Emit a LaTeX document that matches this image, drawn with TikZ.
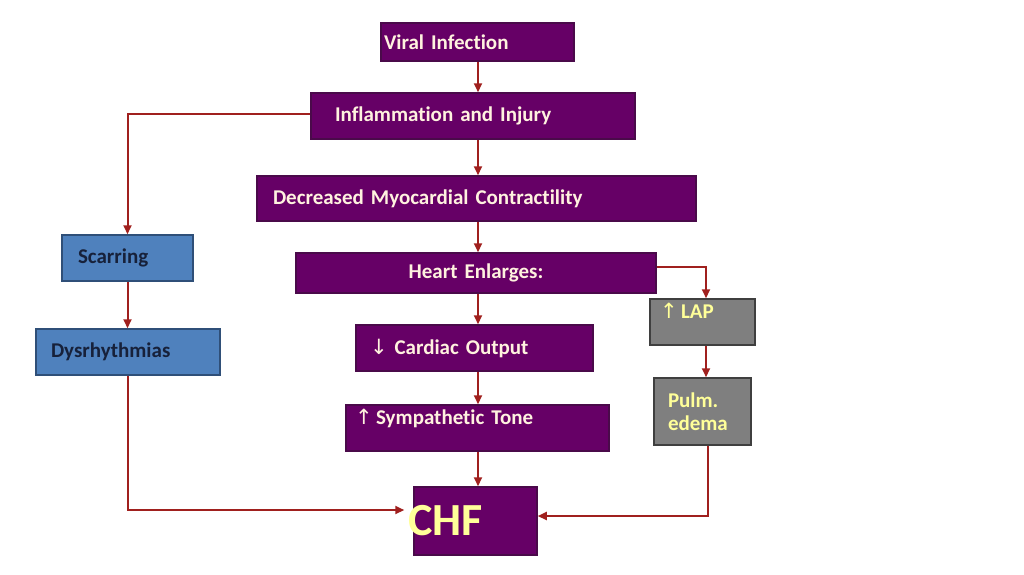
\documentclass[tikz,border=0pt]{standalone}
\usepackage{fontspec}
\setmainfont{Carlito}[Ligatures={NoCommon}]
\newfontfamily\arrowfont{DejaVu Sans}
\usepackage{tikz}
\usetikzlibrary{arrows.meta,calc,positioning}
\definecolor{boxpurple}{HTML}{660066}
\definecolor{edgepurple}{HTML}{4A0A4A}
\definecolor{boxblue}{HTML}{4F81BD}
\definecolor{edgeblue}{HTML}{2F4F78}
\definecolor{boxgray}{HTML}{7F7F7F}
\definecolor{edgegray}{HTML}{3F3F3F}
\definecolor{linkred}{HTML}{A0201E}
\definecolor{creamtext}{HTML}{FFF2DF}
\definecolor{yellowtext}{HTML}{FFFF99}
\definecolor{navytext}{HTML}{17213A}
\tikzset{
  flowbox/.style={rectangle,draw,line width=1.5pt,inner ysep=0pt,align=left,
    font=\fontsize{21}{23}\selectfont\bfseries},
  purplebox/.style={flowbox,fill=boxpurple,draw=edgepurple,text=creamtext},
  bluebox/.style={flowbox,fill=boxblue,draw=edgeblue,text=navytext},
  graybox/.style={flowbox,fill=boxgray,draw=edgegray,text=yellowtext},
  raised/.style={text height=15pt,text depth=22pt},
  link/.style={draw=linkred,line width=2pt,-{Triangle[length=9pt,width=8pt]}}
}
\newcommand{\upar}{{\arrowfont\mdseries\char"2191}}
\newcommand{\downar}{{\arrowfont\mdseries\char"2193}}
\begin{document}
\begin{tikzpicture}[x=1pt,y=-1pt]
\useasboundingbox[fill=white] (0,0) rectangle (1024,574);
\coordinate (spine) at (478,0);
\node[purplebox,minimum width=193pt,minimum height=38pt,inner xsep=3pt,text width=187pt] (viral) at (477.5,42) {Viral Infection};
\node[purplebox,minimum width=324pt,minimum height=46pt,inner xsep=24pt,text width=276pt] (inflam) at (473,116) {Inflammation and Injury};
\node[purplebox,minimum width=439pt,minimum height=45pt,inner xsep=16pt,text width=407pt] (decr) at (476.5,198.5) {Decreased Myocardial Contractility};
\node[purplebox,minimum width=360pt,minimum height=40pt,inner xsep=10pt,text width=340pt,align=center] (heart) at (476,273) {Heart Enlarges:};
\node[purplebox,minimum width=237pt,minimum height=46pt,inner xsep=14pt,text width=209pt] (cardiac) at (474.5,348) {\downar\ Cardiac Output};
\node[purplebox,raised,minimum width=263pt,minimum height=46pt,inner xsep=9pt,text width=245pt] (symp) at (477.5,428) {\upar\,Sympathetic Tone};
\node[purplebox,text=yellowtext,minimum width=123pt,minimum height=68pt,inner xsep=-6pt,text width=135pt,font=\fontsize{46}{50}\selectfont\bfseries] (chf) at (475.5,521) {CHF};
\node[bluebox,minimum width=131pt,minimum height=46pt,inner xsep=16pt,text width=99pt] (scar) at (127.5,258) {Scarring};
\node[bluebox,minimum width=184pt,minimum height=46pt,inner xsep=15pt,text width=154pt] (dys) at (128,352) {Dysrhythmias};
\node[graybox,raised,minimum width=105pt,minimum height=46pt,inner xsep=10pt,text width=85pt] (lap) at (702.5,322) {\upar\,LAP};
\node[graybox,minimum width=97pt,minimum height=67pt,inner xsep=14pt,text width=69pt] (pulm) at (702.5,411.5) {Pulm.\\edema};
\draw[link] (viral.south -| spine) -- (inflam.north -| spine);
\draw[link] (inflam.south -| spine) -- (decr.north -| spine);
\draw[link] (decr.south -| spine) -- (heart.north -| spine);
\draw[link] (heart.south -| spine) -- (cardiac.north -| spine);
\draw[link] (cardiac.south -| spine) -- (symp.north -| spine);
\draw[link] (symp.south -| spine) -- (chf.north -| spine);
\draw[link] ([yshift=2pt]inflam.west) -| (scar.north);
\draw[link] (scar.south) -- (scar.south |- dys.north);
\draw[link] (dys.south) |- ([xshift=-9pt,yshift=11pt]chf.west);
\draw[link] ([yshift=6pt]heart.east) -| ([xshift=3.5pt]lap.north);
\draw[link] ([xshift=3.5pt]lap.south) -- ([xshift=3.5pt]pulm.north);
\draw[link] ([xshift=5.5pt]pulm.south) |- ([yshift=5pt]chf.east);
\end{tikzpicture}
\end{document}
